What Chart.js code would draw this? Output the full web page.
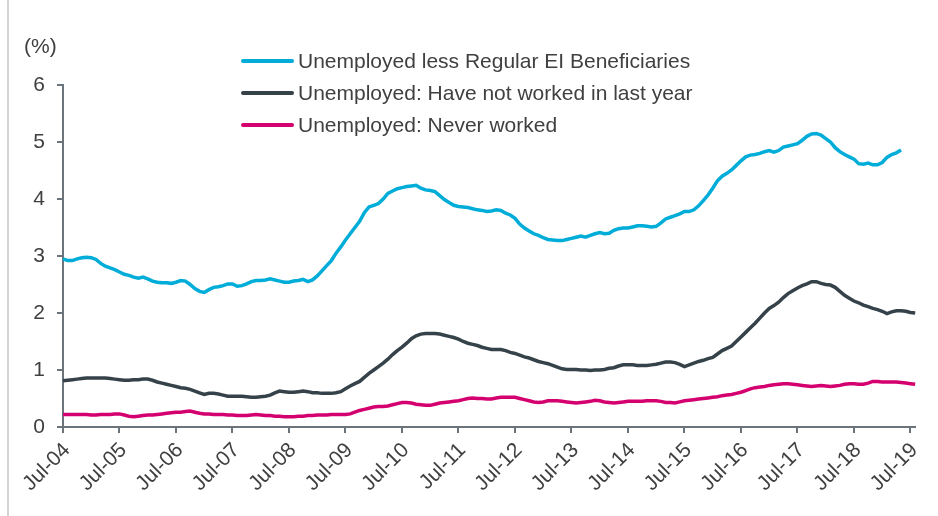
<!DOCTYPE html>
<html>
<head>
<meta charset="utf-8">
<script src="https://cdn.jsdelivr.net/npm/chart.js@4/dist/chart.umd.min.js"></script>
<style>
  body { margin: 0; background: #fff; font-family: "Liberation Sans", Arial, sans-serif; }
  #wrap { position: relative; width: 938px; height: 516px; }
  #frame { position: absolute; left: 7px; top: 0; width: 2px; height: 516px; background: #d4d4d4; }
  #unit { position: absolute; left: 24px; top: 34px; font-size: 21px; color: #404040; }
  #legend { position: absolute; left: 241px; top: 45px; }
  .item { height: 32px; display: flex; align-items: center; font-size: 21px; color: #404040; white-space: nowrap; }
  .swatch { width: 53px; height: 3.5px; border-radius: 2px; margin-right: 4px; }
</style>
</head>
<body>
<div id="wrap">
  <canvas id="unemploymentChart" width="938" height="516"></canvas>
  <div id="frame"></div>
  <div id="unit">(%)</div>
  <div id="legend"></div>
</div>
<script>
// monthly, Jul-04 .. Aug-19
const startYear = 2004, startMonth = 6;
const monthNames = ['Jan','Feb','Mar','Apr','May','Jun','Jul','Aug','Sep','Oct','Nov','Dec'];
const months = [];
for (let i = 0; i < 182; i++) {
  const m = (startMonth + i) % 12;
  const y = startYear + Math.floor((startMonth + i) / 12);
  months.push(monthNames[m] + '-' + String(y % 100).padStart(2, '0'));
}

const lessRegularEI = [
  2.95, 2.92, 2.92, 2.95, 2.97, 2.98, 2.97, 2.94, 2.87, 2.82, 2.79, 2.76,
  2.72, 2.68, 2.66, 2.63, 2.61, 2.63, 2.60, 2.56, 2.54, 2.53, 2.53, 2.52,
  2.54, 2.57, 2.56, 2.50, 2.43, 2.38, 2.36, 2.41, 2.45, 2.46, 2.48, 2.51,
  2.51, 2.47, 2.48, 2.51, 2.55, 2.57, 2.57, 2.58, 2.60, 2.58, 2.56, 2.54,
  2.54, 2.56, 2.57, 2.59, 2.55, 2.58, 2.65, 2.74, 2.83, 2.92, 3.05, 3.16,
  3.28, 3.39, 3.50, 3.61, 3.76, 3.86, 3.89, 3.92, 4.00, 4.10, 4.14, 4.18,
  4.20, 4.22, 4.23, 4.24, 4.19, 4.16, 4.15, 4.13, 4.06, 3.99, 3.94, 3.89,
  3.87, 3.86, 3.85, 3.83, 3.81, 3.80, 3.78, 3.79, 3.81, 3.80, 3.75, 3.72,
  3.66, 3.56, 3.49, 3.44, 3.39, 3.36, 3.32, 3.29, 3.28, 3.27, 3.27, 3.29,
  3.31, 3.33, 3.35, 3.33, 3.36, 3.39, 3.41, 3.39, 3.40, 3.45, 3.48, 3.49,
  3.49, 3.51, 3.53, 3.53, 3.52, 3.51, 3.52, 3.58, 3.65, 3.68, 3.71, 3.74,
  3.78, 3.78, 3.81, 3.88, 3.97, 4.07, 4.19, 4.32, 4.40, 4.45, 4.51, 4.59,
  4.67, 4.74, 4.77, 4.78, 4.80, 4.83, 4.85, 4.82, 4.85, 4.91, 4.93, 4.95,
  4.97, 5.03, 5.10, 5.14, 5.15, 5.12, 5.06, 5.00, 4.90, 4.83, 4.78, 4.74,
  4.70, 4.62, 4.61, 4.63, 4.60, 4.60, 4.64, 4.73, 4.78, 4.81, 4.86, null,
  null, null
];

const notWorkedLastYear = [
  0.81, 0.82, 0.83, 0.84, 0.85, 0.86, 0.86, 0.86, 0.86, 0.86, 0.85, 0.84,
  0.83, 0.82, 0.82, 0.83, 0.83, 0.84, 0.84, 0.82, 0.79, 0.77, 0.75, 0.73,
  0.71, 0.69, 0.68, 0.66, 0.63, 0.60, 0.57, 0.59, 0.59, 0.58, 0.56, 0.54,
  0.54, 0.54, 0.54, 0.53, 0.52, 0.52, 0.53, 0.54, 0.56, 0.60, 0.63, 0.62,
  0.61, 0.61, 0.62, 0.63, 0.62, 0.60, 0.60, 0.59, 0.59, 0.59, 0.60, 0.62,
  0.67, 0.72, 0.76, 0.80, 0.87, 0.94, 1.00, 1.06, 1.12, 1.19, 1.27, 1.34,
  1.40, 1.47, 1.55, 1.60, 1.63, 1.64, 1.64, 1.64, 1.63, 1.61, 1.59, 1.57,
  1.54, 1.50, 1.47, 1.45, 1.43, 1.40, 1.38, 1.36, 1.36, 1.36, 1.34, 1.31,
  1.29, 1.26, 1.23, 1.21, 1.18, 1.15, 1.13, 1.11, 1.08, 1.05, 1.02, 1.01,
  1.01, 1.01, 1.00, 1.00, 0.99, 1.00, 1.00, 1.01, 1.03, 1.04, 1.07, 1.09,
  1.09, 1.09, 1.08, 1.08, 1.08, 1.09, 1.10, 1.12, 1.14, 1.14, 1.13, 1.10,
  1.06, 1.09, 1.12, 1.15, 1.17, 1.20, 1.22, 1.28, 1.34, 1.38, 1.42, 1.50,
  1.58, 1.66, 1.74, 1.82, 1.91, 2.00, 2.08, 2.13, 2.19, 2.27, 2.34, 2.39,
  2.44, 2.48, 2.51, 2.55, 2.55, 2.52, 2.50, 2.49, 2.45, 2.38, 2.31, 2.26,
  2.21, 2.18, 2.14, 2.11, 2.08, 2.06, 2.03, 1.99, 2.02, 2.04, 2.04, 2.03,
  2.01, 2.00
];

const neverWorked = [
  0.22, 0.22, 0.22, 0.22, 0.22, 0.22, 0.21, 0.21, 0.22, 0.22, 0.22, 0.23,
  0.23, 0.21, 0.19, 0.18, 0.19, 0.20, 0.21, 0.21, 0.22, 0.23, 0.24, 0.25,
  0.26, 0.26, 0.27, 0.28, 0.26, 0.24, 0.23, 0.23, 0.22, 0.22, 0.22, 0.21,
  0.21, 0.20, 0.20, 0.20, 0.21, 0.22, 0.21, 0.20, 0.20, 0.19, 0.19, 0.18,
  0.18, 0.18, 0.19, 0.19, 0.20, 0.20, 0.21, 0.21, 0.21, 0.22, 0.22, 0.22,
  0.22, 0.23, 0.26, 0.29, 0.31, 0.33, 0.35, 0.36, 0.36, 0.37, 0.39, 0.41,
  0.43, 0.43, 0.42, 0.40, 0.39, 0.38, 0.38, 0.40, 0.42, 0.43, 0.44, 0.45,
  0.46, 0.48, 0.50, 0.51, 0.50, 0.50, 0.49, 0.49, 0.51, 0.52, 0.52, 0.52,
  0.52, 0.50, 0.48, 0.46, 0.44, 0.43, 0.44, 0.46, 0.46, 0.46, 0.45, 0.44,
  0.43, 0.42, 0.43, 0.44, 0.45, 0.47, 0.46, 0.44, 0.43, 0.42, 0.43, 0.44,
  0.45, 0.45, 0.45, 0.45, 0.46, 0.46, 0.46, 0.45, 0.43, 0.43, 0.42, 0.44,
  0.46, 0.47, 0.48, 0.49, 0.50, 0.51, 0.52, 0.53, 0.55, 0.56, 0.57, 0.59,
  0.61, 0.64, 0.67, 0.69, 0.70, 0.71, 0.73, 0.74, 0.75, 0.76, 0.76, 0.75,
  0.74, 0.73, 0.72, 0.71, 0.72, 0.73, 0.72, 0.71, 0.72, 0.73, 0.75, 0.76,
  0.76, 0.75, 0.75, 0.77, 0.80, 0.80, 0.79, 0.79, 0.79, 0.79, 0.78, 0.77,
  0.76, 0.75
];

const yTicks = [0, 1, 2, 3, 4, 5, 6];

const series = [
  { label: 'Unemployed less Regular EI Beneficiaries', data: lessRegularEI, color: '#00acd8' },
  { label: 'Unemployed: Have not worked in last year', data: notWorkedLastYear, color: '#36424a' },
  { label: 'Unemployed: Never worked', data: neverWorked, color: '#d5006f' }
];

const axisColor = '#6b737b';
const textColor = '#404040';

const legendEl = document.getElementById('legend');
series.forEach(s => {
  const row = document.createElement('div');
  row.className = 'item';
  row.innerHTML = '<span class="swatch" style="background:' + s.color + '"></span>' + s.label;
  legendEl.appendChild(row);
});

const ctx = document.getElementById('unemploymentChart').getContext('2d');
const chart = new Chart(ctx, {
  type: 'line',
  data: {
    labels: months,
    datasets: series.map(s => ({
      label: s.label,
      data: s.data,
      borderColor: s.color,
      backgroundColor: s.color,
      borderWidth: 3.5,
      pointRadius: 0,
      tension: 0,
      fill: false
    }))
  },
  options: {
    responsive: false,
    animation: false,
    layout: { padding: { top: 85, right: 18, left: 0, bottom: 0 } },
    plugins: { legend: { display: false }, tooltip: { enabled: false } },
    scales: {
      x: {
        offset: false,
        afterFit: scale => { scale.height = 89; },
        grid: {
          drawOnChartArea: false,
          drawTicks: true,
          tickLength: 6,
          lineWidth: 2,
          tickColor: c => (c.index % 12 === 0 ? axisColor : 'rgba(0,0,0,0)')
        },
        border: { display: true, color: axisColor, width: 2 },
        ticks: {
          autoSkip: false,
          maxRotation: 45,
          minRotation: 45,
          padding: 5,
          labelOffset: 4,
          color: textColor,
          font: { family: '"Liberation Sans", Arial, sans-serif', size: 21 },
          callback: (v, i) => (i % 12 === 0 ? months[i] : '')
        }
      },
      y: {
        min: 0,
        max: 6,
        afterFit: scale => { scale.width = 63; },
        afterBuildTicks: scale => { scale.ticks = yTicks.map(v => ({ value: v })); },
        grid: {
          drawOnChartArea: false,
          drawTicks: true,
          tickLength: 6,
          lineWidth: 2,
          tickColor: axisColor
        },
        border: { display: true, color: axisColor, width: 2 },
        ticks: {
          padding: 12,
          color: textColor,
          font: { family: '"Liberation Sans", Arial, sans-serif', size: 21 }
        }
      }
    }
  }
});
</script>
</body>
</html>
